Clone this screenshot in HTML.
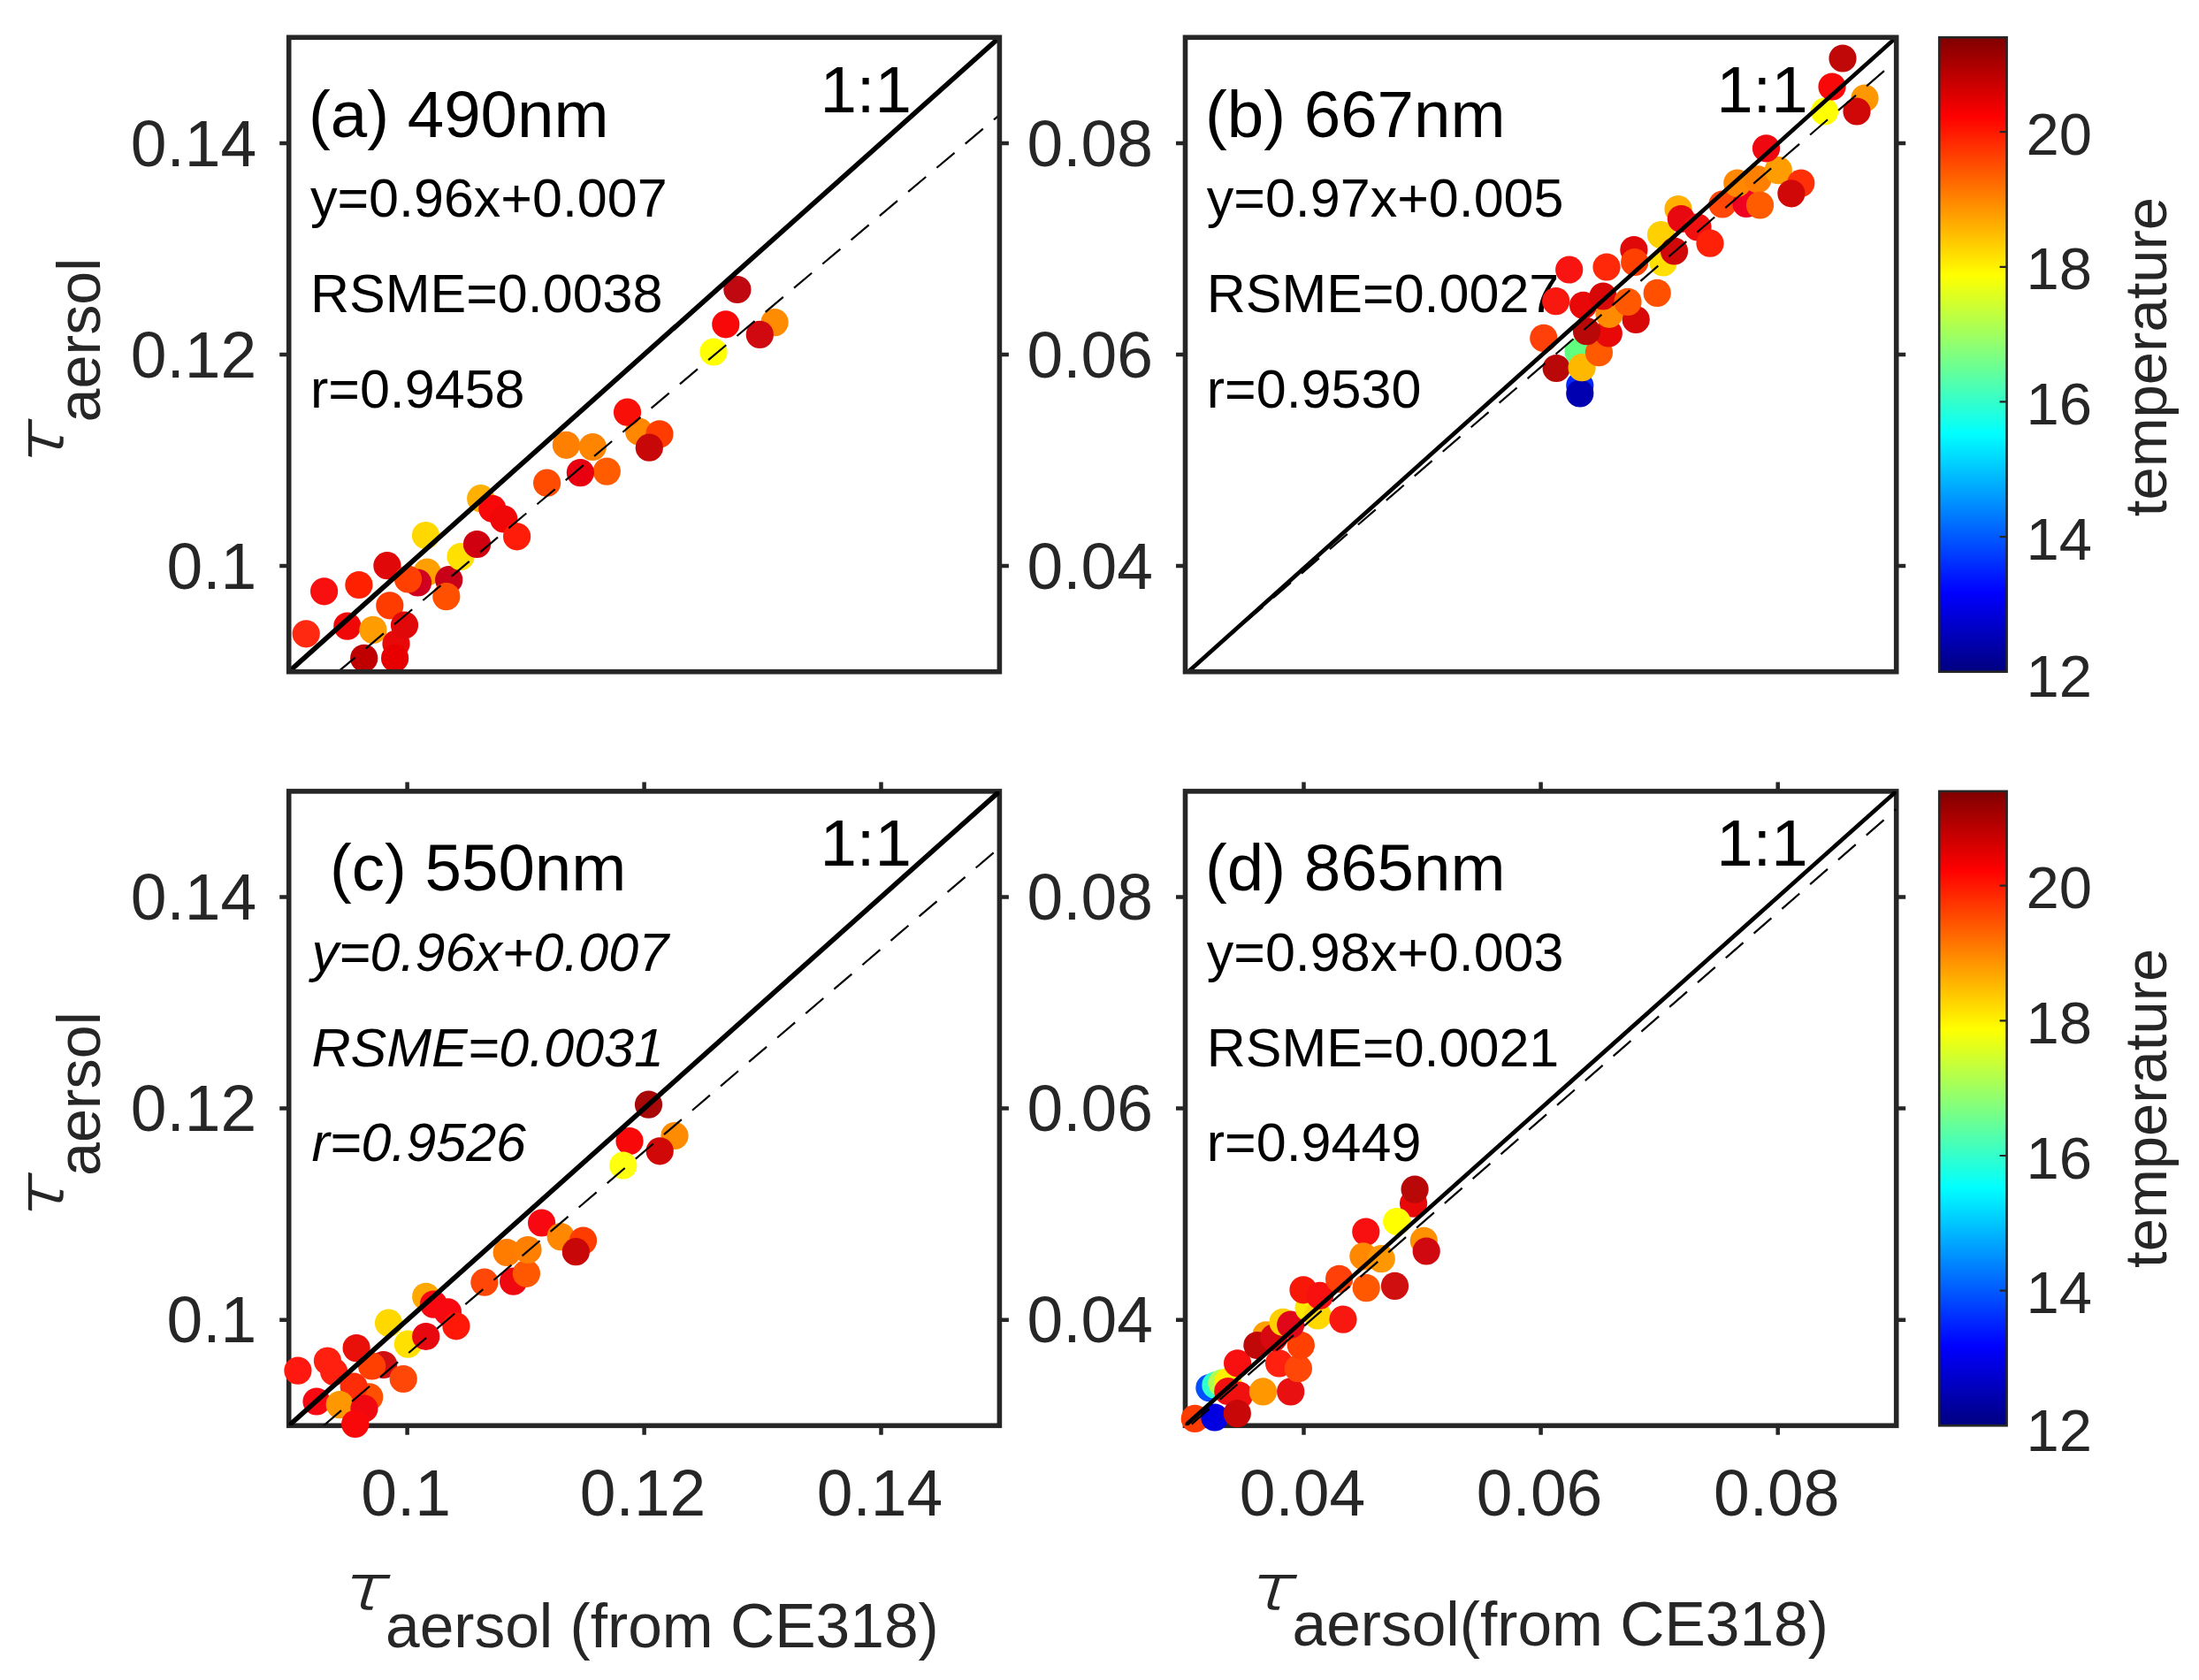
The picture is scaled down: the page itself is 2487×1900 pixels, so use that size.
<!DOCTYPE html>
<html lang="en"><head><meta charset="utf-8"><title>Aerosol optical depth comparison</title>
<style>html,body{margin:0;padding:0;background:#fff}svg{display:block}text{font-family:"Liberation Sans", Arial, sans-serif}.tk{font-size:73.2px;fill:#262626}.ti{font-size:74.5px;fill:#000}.st{font-size:61px;fill:#000}.cb{font-size:67px;fill:#262626}.cbl{font-size:67px;fill:#262626}.sub{font-size:69.5px;fill:#262626}.tau{font-family:"DejaVu Sans Light", "DejaVu Sans", sans-serif;font-weight:200;font-style:italic;font-size:70px;fill:#262626;stroke:#262626;stroke-width:1.5px}</style></head><body>
<svg width="2487" height="1900" viewBox="0 0 2487 1900">
<defs><linearGradient id="jet" x1="0" y1="1" x2="0" y2="0">
<stop offset="0" stop-color="#000080"/>
<stop offset="0.125" stop-color="#0000ff"/>
<stop offset="0.375" stop-color="#00ffff"/>
<stop offset="0.625" stop-color="#ffff00"/>
<stop offset="0.875" stop-color="#ff0000"/>
<stop offset="1" stop-color="#800000"/>
</linearGradient>
<clipPath id="clipa"><rect x="326.7" y="42.3" width="803.7" height="717.4"/></clipPath>
<clipPath id="clipb"><rect x="1340.5" y="42.3" width="804.2" height="717.4"/></clipPath>
<clipPath id="clipc"><rect x="326.7" y="894.9" width="803.7" height="717.4"/></clipPath>
<clipPath id="clipd"><rect x="1340.5" y="894.9" width="804.2" height="717.4"/></clipPath>
</defs>
<rect width="2487" height="1900" fill="#fff"/>
<g id="panel-a">
<text class="tk" text-anchor="end" x="290.2" y="187.5">0.14</text>
<text class="tk" text-anchor="end" x="290.2" y="426.6">0.12</text>
<text class="tk" text-anchor="end" x="290.2" y="665.7">0.1</text>
<text class="ti" x="349" y="154.5">(a) 490nm</text>
<text class="st" x="351" y="245.3">y=0.96x+0.007</text>
<text class="st" x="351" y="352.9">RSME=0.0038</text>
<text class="st" x="351" y="460.5">r=0.9458</text>
<text class="ti" x="927.4" y="126.8">1:1</text>
<g clip-path="url(#clipa)">
<circle cx="346.2" cy="716.8" r="15.6" fill="#ff2810"/>
<circle cx="366.6" cy="668.8" r="15.6" fill="#f81010"/>
<circle cx="405.9" cy="661.5" r="15.6" fill="#ff2000"/>
<circle cx="437.9" cy="639.7" r="15.6" fill="#e00808"/>
<circle cx="392.8" cy="708.1" r="15.6" fill="#f00808"/>
<circle cx="421.9" cy="712.4" r="15.6" fill="#ff9c00"/>
<circle cx="440.8" cy="684.8" r="15.6" fill="#ff3c00"/>
<circle cx="411.7" cy="744.4" r="15.6" fill="#c00000"/>
<circle cx="448" cy="728" r="15.6" fill="#e80808"/>
<circle cx="446.6" cy="744.4" r="15.6" fill="#e80000"/>
<circle cx="457.5" cy="707" r="15.6" fill="#e00808"/>
<circle cx="483" cy="647" r="15.6" fill="#ffa000"/>
<circle cx="472.5" cy="659" r="15.6" fill="#d00020"/>
<circle cx="461.5" cy="655" r="15.6" fill="#ff4000"/>
<circle cx="481.5" cy="605.5" r="15.6" fill="#ffd800"/>
<circle cx="507.7" cy="655.7" r="15.6" fill="#c80018"/>
<circle cx="504.8" cy="674.6" r="15.6" fill="#ff5000"/>
<circle cx="521" cy="629.5" r="15.6" fill="#ffe000"/>
<circle cx="539.5" cy="615.5" r="15.6" fill="#d00010"/>
<circle cx="543.7" cy="563.7" r="15.6" fill="#ffb000"/>
<circle cx="556.8" cy="575.3" r="15.6" fill="#f80808"/>
<circle cx="569.8" cy="587" r="15.6" fill="#f00808"/>
<circle cx="584.6" cy="606.8" r="15.6" fill="#ff1c08"/>
<circle cx="618.6" cy="546.2" r="15.6" fill="#ff4c00"/>
<circle cx="686.3" cy="533.1" r="15.6" fill="#ff5c00"/>
<circle cx="656.4" cy="534.6" r="15.6" fill="#e80010"/>
<circle cx="640.4" cy="503.3" r="15.6" fill="#ff8000"/>
<circle cx="670.3" cy="505.5" r="15.6" fill="#ff8400"/>
<circle cx="722.6" cy="488" r="15.6" fill="#ff8800"/>
<circle cx="709.5" cy="466.2" r="15.6" fill="#f81008"/>
<circle cx="745.9" cy="490.9" r="15.6" fill="#ff3c00"/>
<circle cx="734.3" cy="506.2" r="15.6" fill="#c80808"/>
<circle cx="833.9" cy="327.5" r="15.6" fill="#c00810"/>
<circle cx="820.8" cy="366.8" r="15.6" fill="#f80808"/>
<circle cx="876.1" cy="364.6" r="15.6" fill="#ff8c00"/>
<circle cx="859.3" cy="378.4" r="15.6" fill="#d00810"/>
<circle cx="807" cy="398" r="15.6" fill="#ffff00"/>
</g>
<g clip-path="url(#clipa)">
<line x1="382.5" y1="759.7" x2="1130.4" y2="130" stroke="#000" stroke-width="2.2" stroke-dasharray="26.3 15.9" stroke-dashoffset="1.3"/>
<line x1="318.7" y1="766.8" x2="1138.4" y2="35.2" stroke="#000" stroke-width="5.6"/>
</g>
<path d="M326.7 161.9h-10.5M1130.4 161.9h10.5M326.7 401h-10.5M1130.4 401h10.5M326.7 640.1h-10.5M1130.4 640.1h10.5" stroke="#262626" stroke-width="4.5" fill="none"/>
<rect x="326.7" y="42.3" width="803.7" height="717.4" fill="none" stroke="#262626" stroke-width="5.6"/>
</g>
<g id="panel-b">
<text class="tk" text-anchor="end" x="1304" y="187.5">0.08</text>
<text class="tk" text-anchor="end" x="1304" y="426.6">0.06</text>
<text class="tk" text-anchor="end" x="1304" y="665.7">0.04</text>
<text class="ti" x="1363" y="154.5">(b) 667nm</text>
<text class="st" x="1364.8" y="245.3">y=0.97x+0.005</text>
<text class="st" x="1364.8" y="352.9">RSME=0.0027</text>
<text class="st" x="1364.8" y="460.5">r=0.9530</text>
<text class="ti" x="1941.2" y="126.8">1:1</text>
<g clip-path="url(#clipb)">
<circle cx="1774.7" cy="305" r="15.6" fill="#f81410"/>
<circle cx="1759.7" cy="340.6" r="15.6" fill="#f81810"/>
<circle cx="1745.8" cy="382.4" r="15.6" fill="#ff4008"/>
<circle cx="1785" cy="397.5" r="15.6" fill="#60ff80"/>
<circle cx="1760.2" cy="416.5" r="15.6" fill="#b80808"/>
<circle cx="1786.8" cy="436" r="15.6" fill="#0028ff"/>
<circle cx="1786.8" cy="445" r="15.6" fill="#0000b0"/>
<circle cx="1789.1" cy="415.7" r="15.6" fill="#ffb800"/>
<circle cx="1808.4" cy="398.7" r="15.6" fill="#ff5a00"/>
<circle cx="1819.3" cy="377" r="15.6" fill="#e80808"/>
<circle cx="1794.5" cy="374.7" r="15.6" fill="#b80808"/>
<circle cx="1850.2" cy="361.5" r="15.6" fill="#d80808"/>
<circle cx="1820" cy="355.3" r="15.6" fill="#ff8c00"/>
<circle cx="1790.6" cy="345.3" r="15.6" fill="#e80808"/>
<circle cx="1813" cy="335" r="15.6" fill="#d80808"/>
<circle cx="1817" cy="302" r="15.6" fill="#ff2808"/>
<circle cx="1841" cy="341.4" r="15.6" fill="#ff5800"/>
<circle cx="1874.2" cy="331.4" r="15.6" fill="#ff5000"/>
<circle cx="1847.9" cy="282.6" r="15.6" fill="#e00808"/>
<circle cx="1848.7" cy="296.5" r="15.6" fill="#ff4000"/>
<circle cx="1881" cy="297" r="15.6" fill="#ffe000"/>
<circle cx="1878.5" cy="265.5" r="15.6" fill="#ffd000"/>
<circle cx="1893.5" cy="284" r="15.6" fill="#d00808"/>
<circle cx="1898" cy="236.5" r="15.6" fill="#ffb000"/>
<circle cx="1901.3" cy="247.5" r="15.6" fill="#e80810"/>
<circle cx="1920" cy="257" r="15.6" fill="#f01010"/>
<circle cx="1934" cy="275.2" r="15.6" fill="#ff2008"/>
<circle cx="1948" cy="231" r="15.6" fill="#ff4808"/>
<circle cx="1975" cy="230.4" r="15.6" fill="#f00020"/>
<circle cx="1964.8" cy="207.1" r="15.6" fill="#ff8800"/>
<circle cx="1988" cy="202.8" r="15.6" fill="#ff8000"/>
<circle cx="1990.5" cy="232" r="15.6" fill="#ff5c00"/>
<circle cx="2011.3" cy="192.6" r="15.6" fill="#ff9c00"/>
<circle cx="1997.5" cy="167.8" r="15.6" fill="#f00810"/>
<circle cx="2036.8" cy="207.1" r="15.6" fill="#ff3008"/>
<circle cx="2025.9" cy="218.8" r="15.6" fill="#d00808"/>
<circle cx="2063.5" cy="126" r="15.6" fill="#ffff00"/>
<circle cx="2109" cy="111" r="15.6" fill="#ff9800"/>
<circle cx="2100" cy="126" r="15.6" fill="#d00808"/>
<circle cx="2072" cy="98" r="15.6" fill="#f80808"/>
<circle cx="2084" cy="66" r="15.6" fill="#c00808"/>
</g>
<g clip-path="url(#clipb)">
<line x1="1340.5" y1="762" x2="2144.7" y2="68.3" stroke="#000" stroke-width="2.2" stroke-dasharray="26.3 15.9" stroke-dashoffset="-4.8"/>
<line x1="1335" y1="767.7" x2="2153" y2="34.8" stroke="#000" stroke-width="4.7"/>
</g>
<path d="M1340.5 161.9h-10.5M2144.7 161.9h10.5M1340.5 401h-10.5M2144.7 401h10.5M1340.5 640.1h-10.5M2144.7 640.1h10.5" stroke="#262626" stroke-width="4.5" fill="none"/>
<rect x="1340.5" y="42.3" width="804.2" height="717.4" fill="none" stroke="#262626" stroke-width="5.6"/>
</g>
<g id="panel-c">
<text class="tk" text-anchor="end" x="290.2" y="1040.1">0.14</text>
<text class="tk" text-anchor="end" x="290.2" y="1279.2">0.12</text>
<text class="tk" text-anchor="end" x="290.2" y="1518.3">0.1</text>
<text class="tk" text-anchor="middle" x="459.1" y="1713.9">0.1</text>
<text class="tk" text-anchor="middle" x="727.1" y="1713.9">0.12</text>
<text class="tk" text-anchor="middle" x="995" y="1713.9">0.14</text>
<path d="M326.7 1014.5h-10.5M1130.4 1014.5h10.5M326.7 1253.6h-10.5M1130.4 1253.6h10.5M326.7 1492.7h-10.5M1130.4 1492.7h10.5M460.6 894.9v-10.5M460.6 1612.3v10.5M728.6 894.9v-10.5M728.6 1612.3v10.5M996.5 894.9v-10.5M996.5 1612.3v10.5" stroke="#262626" stroke-width="4.5" fill="none"/>
<rect x="326.7" y="894.9" width="803.7" height="717.4" fill="none" stroke="#262626" stroke-width="5.6"/>
<text class="ti" x="373" y="1007.1">(c) 550nm</text>
<text class="st" font-style="italic" x="352.5" y="1097.9">y=0.96x+0.007</text>
<text class="st" font-style="italic" x="352.5" y="1205.5">RSME=0.0031</text>
<text class="st" font-style="italic" x="352.5" y="1313.1">r=0.9526</text>
<text class="ti" x="927.4" y="979.4">1:1</text>
<circle cx="336.9" cy="1550.1" r="15.6" fill="#ff1810"/>
<circle cx="370.4" cy="1539.1" r="15.6" fill="#ff2010"/>
<circle cx="377.7" cy="1551.5" r="15.6" fill="#ff2010"/>
<circle cx="403.1" cy="1524.6" r="15.6" fill="#e81008"/>
<circle cx="358" cy="1585" r="15.6" fill="#f80810"/>
<circle cx="417.7" cy="1579.9" r="15.6" fill="#ff5000"/>
<circle cx="400.2" cy="1568.2" r="15.6" fill="#ff2c08"/>
<circle cx="433.7" cy="1543.5" r="15.6" fill="#d01010"/>
<circle cx="420.6" cy="1545" r="15.6" fill="#ff4000"/>
<circle cx="384.2" cy="1588.6" r="15.6" fill="#ff9800"/>
<circle cx="411.9" cy="1593" r="15.6" fill="#f00810"/>
<circle cx="401.7" cy="1610.4" r="15.6" fill="#f80808"/>
<circle cx="456.2" cy="1559.5" r="15.6" fill="#ff4808"/>
<circle cx="439.5" cy="1496.2" r="15.6" fill="#ffd800"/>
<circle cx="461.3" cy="1520.2" r="15.6" fill="#ffe000"/>
<circle cx="481.7" cy="1511.5" r="15.6" fill="#e80810"/>
<circle cx="481.7" cy="1466.4" r="15.6" fill="#ffa800"/>
<circle cx="490.4" cy="1475.1" r="15.6" fill="#f80810"/>
<circle cx="506.4" cy="1483.8" r="15.6" fill="#f80810"/>
<circle cx="515.9" cy="1499.8" r="15.6" fill="#ff1808"/>
<circle cx="547.9" cy="1450.2" r="15.6" fill="#ff4808"/>
<circle cx="580.6" cy="1449.2" r="15.6" fill="#f00810"/>
<circle cx="595.4" cy="1440.3" r="15.6" fill="#ff5800"/>
<circle cx="573.2" cy="1416.5" r="15.6" fill="#ff7c00"/>
<circle cx="597" cy="1413.5" r="15.6" fill="#ff8000"/>
<circle cx="612.6" cy="1383" r="15.6" fill="#f80810"/>
<circle cx="634.2" cy="1398.6" r="15.6" fill="#ff8800"/>
<circle cx="659.5" cy="1403.1" r="15.6" fill="#ff3c00"/>
<circle cx="651.3" cy="1415.7" r="15.6" fill="#c80808"/>
<circle cx="733.5" cy="1249.2" r="15.6" fill="#a80808"/>
<circle cx="712" cy="1290.5" r="15.6" fill="#f80808"/>
<circle cx="763" cy="1284.5" r="15.6" fill="#ff8c00"/>
<circle cx="746.2" cy="1301.8" r="15.6" fill="#d00808"/>
<circle cx="704.8" cy="1318" r="15.6" fill="#ffff10"/>
<g clip-path="url(#clipc)">
<line x1="366" y1="1612.3" x2="1130.4" y2="958.7" stroke="#000" stroke-width="2.2" stroke-dasharray="26.3 15.9" stroke-dashoffset="0"/>
<line x1="318.7" y1="1619.4" x2="1138.4" y2="887.8" stroke="#000" stroke-width="5.6"/>
</g>
</g>
<g id="panel-d">
<text class="tk" text-anchor="end" x="1304" y="1040.1">0.08</text>
<text class="tk" text-anchor="end" x="1304" y="1279.2">0.06</text>
<text class="tk" text-anchor="end" x="1304" y="1518.3">0.04</text>
<text class="tk" text-anchor="middle" x="1473" y="1713.9">0.04</text>
<text class="tk" text-anchor="middle" x="1741.1" y="1713.9">0.06</text>
<text class="tk" text-anchor="middle" x="2009.2" y="1713.9">0.08</text>
<path d="M1340.5 1014.5h-10.5M2144.7 1014.5h10.5M1340.5 1253.6h-10.5M2144.7 1253.6h10.5M1340.5 1492.7h-10.5M2144.7 1492.7h10.5M1474.5 894.9v-10.5M1474.5 1612.3v10.5M1742.6 894.9v-10.5M1742.6 1612.3v10.5M2010.7 894.9v-10.5M2010.7 1612.3v10.5" stroke="#262626" stroke-width="4.5" fill="none"/>
<rect x="1340.5" y="894.9" width="804.2" height="717.4" fill="none" stroke="#262626" stroke-width="5.6"/>
<text class="ti" x="1363" y="1007.1">(d) 865nm</text>
<text class="st" x="1364.8" y="1097.9">y=0.98x+0.003</text>
<text class="st" x="1364.8" y="1205.5">RSME=0.0021</text>
<text class="st" x="1364.8" y="1313.1">r=0.9449</text>
<text class="ti" x="1941.2" y="979.4">1:1</text>
<circle cx="1351.3" cy="1604.4" r="15.6" fill="#ff3c00"/>
<circle cx="1367.9" cy="1569.6" r="15.6" fill="#0050ff"/>
<circle cx="1374.9" cy="1566.5" r="15.6" fill="#30ffd0"/>
<circle cx="1381.8" cy="1564.2" r="15.6" fill="#b0ff50"/>
<circle cx="1388.8" cy="1562.7" r="15.6" fill="#fff000"/>
<circle cx="1373.8" cy="1603" r="15.6" fill="#0000e0"/>
<circle cx="1388.8" cy="1573.5" r="15.6" fill="#f01010"/>
<circle cx="1399.6" cy="1541.8" r="15.6" fill="#f81010"/>
<circle cx="1401.5" cy="1578.2" r="15.6" fill="#f01010"/>
<circle cx="1399.3" cy="1598.6" r="15.6" fill="#c80808"/>
<circle cx="1428.4" cy="1573.9" r="15.6" fill="#ff9800"/>
<circle cx="1446.6" cy="1541.9" r="15.6" fill="#ff2010"/>
<circle cx="1459.7" cy="1573.9" r="15.6" fill="#e81010"/>
<circle cx="1468.4" cy="1547.7" r="15.6" fill="#ff4808"/>
<circle cx="1471.3" cy="1521.5" r="15.6" fill="#ff4000"/>
<circle cx="1432" cy="1509.8" r="15.6" fill="#ffa000"/>
<circle cx="1421.9" cy="1521.5" r="15.6" fill="#c00808"/>
<circle cx="1440.8" cy="1512.8" r="15.6" fill="#d80810"/>
<circle cx="1451" cy="1495.3" r="15.6" fill="#ffd000"/>
<circle cx="1459.7" cy="1498.2" r="15.6" fill="#e00818"/>
<circle cx="1480.1" cy="1479.3" r="15.6" fill="#ffe800"/>
<circle cx="1490.3" cy="1488" r="15.6" fill="#ffd800"/>
<circle cx="1519" cy="1492.2" r="15.6" fill="#f81810"/>
<circle cx="1474" cy="1458.8" r="15.6" fill="#f81808"/>
<circle cx="1492.7" cy="1465.3" r="15.6" fill="#f81010"/>
<circle cx="1514.6" cy="1446.4" r="15.6" fill="#ff4008"/>
<circle cx="1545.2" cy="1456.6" r="15.6" fill="#ff5800"/>
<circle cx="1577.5" cy="1454.4" r="15.6" fill="#d01010"/>
<circle cx="1598.6" cy="1361.1" r="15.6" fill="#e80808"/>
<circle cx="1600.1" cy="1345.1" r="15.6" fill="#b80808"/>
<circle cx="1579.7" cy="1381.5" r="15.6" fill="#ffff00"/>
<circle cx="1544.8" cy="1393.1" r="15.6" fill="#f81010"/>
<circle cx="1610.3" cy="1403.3" r="15.6" fill="#ff9000"/>
<circle cx="1613.2" cy="1415" r="15.6" fill="#d00810"/>
<circle cx="1541.9" cy="1420.8" r="15.6" fill="#ff8800"/>
<circle cx="1562.2" cy="1423.7" r="15.6" fill="#ff9800"/>
<g clip-path="url(#clipd)">
<line x1="1340.5" y1="1617" x2="2144.7" y2="915" stroke="#000" stroke-width="2.2" stroke-dasharray="26.3 15.9" stroke-dashoffset="-9.6"/>
<line x1="1332.5" y1="1619.4" x2="2152.7" y2="887.8" stroke="#000" stroke-width="4.7"/>
</g>
</g>
<g id="colorbar-top">
<rect x="2193.2" y="42.3" width="76.4" height="717.4" fill="url(#jet)"/>
<text class="cb" x="2291.5" y="174.6">20</text>
<text class="cb" x="2291.5" y="327.3">18</text>
<text class="cb" x="2291.5" y="479.9">16</text>
<text class="cb" x="2291.5" y="632.6">14</text>
<text class="cb" x="2291.5" y="788.2">12</text>
<path d="M2269.6 149.1h-8M2269.6 301.8h-8M2269.6 454.4h-8M2269.6 607.1h-8" stroke="#262626" stroke-width="2.2" fill="none"/>
<rect x="2193.2" y="42.3" width="76.4" height="717.4" fill="none" stroke="#262626" stroke-width="2.6"/>
<text class="cbl" text-anchor="middle" transform="translate(2450 403.5) rotate(-90)">temperature</text>
</g>
<g id="colorbar-bottom">
<rect x="2193.2" y="894.9" width="76.4" height="717.4" fill="url(#jet)"/>
<text class="cb" x="2291.5" y="1027.2">20</text>
<text class="cb" x="2291.5" y="1179.9">18</text>
<text class="cb" x="2291.5" y="1332.5">16</text>
<text class="cb" x="2291.5" y="1485.2">14</text>
<text class="cb" x="2291.5" y="1640.8">12</text>
<path d="M2269.6 1001.7h-8M2269.6 1154.4h-8M2269.6 1307h-8M2269.6 1459.7h-8" stroke="#262626" stroke-width="2.2" fill="none"/>
<rect x="2193.2" y="894.9" width="76.4" height="717.4" fill="none" stroke="#262626" stroke-width="2.6"/>
<text class="cbl" text-anchor="middle" transform="translate(2450 1253.3) rotate(-90)">temperature</text>
</g>
<g id="xlabels">
<text class="tau" transform="translate(383.5 1820) scale(1.2 1)">τ</text><text class="sub" x="436" y="1862.5">aersol (from CE318)</text>
<text class="tau" transform="translate(1409 1819.5) scale(1.2 1)">τ</text><text class="sub" x="1461.5" y="1860.5">aersol(from CE318)</text>
</g>
<g id="ylabels">
<g transform="translate(0 516) rotate(-90)"><text class="tau" transform="translate(-15.5 70.8) scale(1.2 1)">τ</text><text class="sub" style="font-size:68.3px" x="38.5" y="113.3">aersol</text></g>
<g transform="translate(0 1368.6) rotate(-90)"><text class="tau" transform="translate(-15.5 70.8) scale(1.2 1)">τ</text><text class="sub" style="font-size:68.3px" x="38.5" y="113.3">aersol</text></g>
</g>
</svg></body></html>
